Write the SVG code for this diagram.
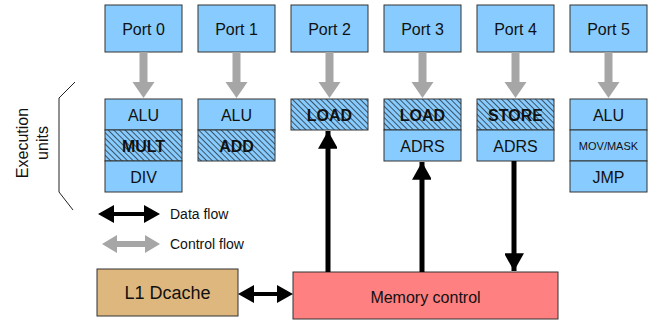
<svg xmlns="http://www.w3.org/2000/svg" width="656" height="325" viewBox="0 0 656 325">
<defs>
<pattern id="hatch" patternUnits="userSpaceOnUse" width="4" height="4" patternTransform="rotate(-45)">
<rect width="4" height="4" fill="#88CCFF"/>
<line x1="0" y1="0" x2="0" y2="4" stroke="#111" stroke-width="1.3"/>
</pattern>
<marker id="bh" markerUnits="userSpaceOnUse" markerWidth="20" markerHeight="20" viewBox="0 0 18 16" refX="16" refY="9" orient="auto">
<path d="M0,0 L16,9 L0,18 Z" fill="#000"/>
</marker>
</defs>
<style>
.box{fill:#88CCFF;stroke:#333;stroke-width:1}
.hb{fill:url(#hatch);stroke:#333;stroke-width:1}
.t{font-family:"Liberation Sans",Arial,sans-serif;font-size:16px;fill:#111;text-anchor:middle}
.tb{font-family:"Liberation Sans",Arial,sans-serif;font-size:16px;font-weight:bold;fill:#111;text-anchor:middle}
.ts{font-family:"Liberation Sans",Arial,sans-serif;font-size:11px;fill:#111;text-anchor:middle}
.lg{font-family:"Liberation Sans",Arial,sans-serif;font-size:14px;fill:#111}
.ga{fill:#A6A6A6}
.da{stroke:#000;stroke-width:5;fill:none;marker-end:url(#bh)}
</style>

<g id="port0"><rect class="box" x="105" y="5" width="77" height="47"/><text class="t" x="143.5" y="34.5">Port 0</text></g>
<g id="port1"><rect class="box" x="198" y="5" width="77" height="47"/><text class="t" x="236.5" y="34.5">Port 1</text></g>
<g id="port2"><rect class="box" x="291" y="5" width="77" height="47"/><text class="t" x="329.5" y="34.5">Port 2</text></g>
<g id="port3"><rect class="box" x="384" y="5" width="77" height="47"/><text class="t" x="422.5" y="34.5">Port 3</text></g>
<g id="port4"><rect class="box" x="477" y="5" width="77" height="47"/><text class="t" x="515.5" y="34.5">Port 4</text></g>
<g id="port5"><rect class="box" x="570" y="5" width="77" height="47"/><text class="t" x="608.5" y="34.5">Port 5</text></g>

<g id="units0">
<rect class="box" x="105" y="99" width="77" height="31"/><text class="t" x="143.5" y="120.5">ALU</text>
<rect class="hb" x="105" y="130" width="77" height="31"/><text class="tb" x="143.5" y="151.5">MULT</text>
<rect class="box" x="105" y="161" width="77" height="31"/><text class="t" x="143.5" y="182.5">DIV</text>
</g>
<g id="units1">
<rect class="box" x="198" y="99" width="77" height="31"/><text class="t" x="236.5" y="120.5">ALU</text>
<rect class="hb" x="198" y="130" width="77" height="31"/><text class="tb" x="236.5" y="151.5">ADD</text>
</g>
<g id="units2">
<rect class="hb" x="291" y="99" width="77" height="31"/><text class="tb" x="329.5" y="120.5">LOAD</text>
</g>
<g id="units3">
<rect class="hb" x="384" y="99" width="77" height="31"/><text class="tb" x="422.5" y="120.5">LOAD</text>
<rect class="box" x="384" y="130" width="77" height="31"/><text class="t" x="422.5" y="151.5">ADRS</text>
</g>
<g id="units4">
<rect class="hb" x="477" y="99" width="77" height="31"/><text class="tb" x="515.5" y="120.5">STORE</text>
<rect class="box" x="477" y="130" width="77" height="31"/><text class="t" x="515.5" y="151.5">ADRS</text>
</g>
<g id="units5">
<rect class="box" x="570" y="99" width="77" height="31"/><text class="t" x="608.5" y="120.5">ALU</text>
<rect class="box" x="570" y="130" width="77" height="31"/><text class="ts" x="608.5" y="149.5">MOV/MASK</text>
<rect class="box" x="570" y="161" width="77" height="31"/><text class="t" x="608.5" y="182.5">JMP</text>
</g>

<g id="exec-label">
<path d="M75,82 L59,98 L59,192 L73,210" fill="none" stroke="#222" stroke-width="1"/>
<text class="t" transform="translate(28,143) rotate(-90)">Execution</text>
<text class="t" transform="translate(48,143) rotate(-90)">units</text>
</g>

<g id="l1"><rect x="97" y="269" width="141" height="47" fill="#DDB77E" stroke="#333" stroke-width="1"/><text class="t" style="font-size:18px" x="167.5" y="299">L1 Dcache</text></g>
<g id="mem"><rect x="293" y="272" width="265" height="47" fill="#FF8080" stroke="#333" stroke-width="1"/><text class="t" x="425.5" y="303">Memory control</text></g>

<g id="legend">
<path d="M98,214 L114,205 L114,212 L144,212 L144,205 L160,214 L144,223 L144,216 L114,216 L114,223 Z" fill="#000"/>
<text class="lg" x="170" y="219">Data flow</text>
<path d="M102,244 L117,235 L117,241 L145,241 L145,235 L160,244 L145,253 L145,247 L117,247 L117,253 Z" class="ga"/>
<text class="lg" x="170" y="249">Control flow</text>
</g>

<g id="connectors">
<path class="ga" d="M139.5,52 L147.5,52 L147.5,82 L154.5,82 L143.5,98 L132.5,82 L139.5,82 Z"/>
<path class="ga" d="M232.5,52 L240.5,52 L240.5,82 L247.5,82 L236.5,98 L225.5,82 L232.5,82 Z"/>
<path class="ga" d="M325.5,52 L333.5,52 L333.5,82 L340.5,82 L329.5,98 L318.5,82 L325.5,82 Z"/>
<path class="ga" d="M418.5,52 L426.5,52 L426.5,82 L433.5,82 L422.5,98 L411.5,82 L418.5,82 Z"/>
<path class="ga" d="M511.5,52 L519.5,52 L519.5,82 L526.5,82 L515.5,98 L504.5,82 L511.5,82 Z"/>
<path class="ga" d="M604.5,52 L612.5,52 L612.5,82 L619.5,82 L608.5,98 L597.5,82 L604.5,82 Z"/>
<line class="da" x1="328" y1="272" x2="328" y2="131"/>
<line class="da" x1="422" y1="272" x2="422" y2="162"/>
<line class="da" x1="514" y1="161" x2="514" y2="271"/>
<path d="M238,294 L254,285 L254,292 L277,292 L277,285 L293,294 L277,303 L277,296 L254,296 L254,303 Z" fill="#000"/>
</g>
</svg>
